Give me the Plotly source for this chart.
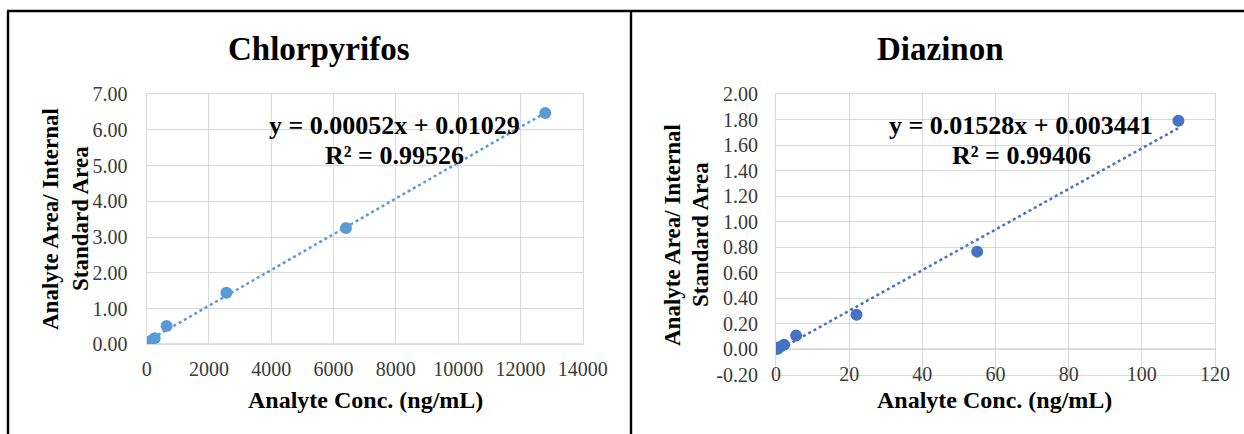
import numpy as np
import plotly.graph_objects as go

W, H = 1244, 434

# ---------------- data ----------------
chl_conc = [25.6, 128, 256, 640, 2560, 6400, 12800]
chl_ratio = [0.03, 0.09, 0.17, 0.51, 1.44, 3.25, 6.47]
chl_title = "Chlorpyrifos"
chl_eq = "y = 0.00052x + 0.01029"
chl_r2 = "R² = 0.99526"
chl_xticks = [0, 2000, 4000, 6000, 8000, 10000, 12000, 14000]
chl_yticks = [0, 1, 2, 3, 4, 5, 6, 7]

dia_conc = [0.22, 0.55, 1.1, 2.2, 5.5, 22, 55, 110]
dia_ratio = [0.003, 0.008, 0.018, 0.035, 0.107, 0.27, 0.765, 1.79]
dia_title = "Diazinon"
dia_eq = "y = 0.01528x + 0.003441"
dia_r2 = "R² = 0.99406"
dia_xticks = [0, 20, 40, 60, 80, 100, 120]
dia_yticks = [-0.2, 0, 0.2, 0.4, 0.6, 0.8, 1.0, 1.2, 1.4, 1.6, 1.8, 2.0]

x_title = "Analyte Conc. (ng/mL)"
y_title_1 = "Analyte Area/ Internal"
y_title_2 = "Standard Area"

# ---------------- helpers ----------------
def px(p):
    return p / W

def py(p):
    return 1 - p / H

SERIF = "Liberation Serif"
TICKFONT = dict(family=SERIF, size=20, color="#3A3A3A")
GRID = "#D9D9D9"
C1 = "#5B9BD5"
C2 = "#4472C4"

fig = go.Figure()

def add_chart(xs, ys, color, xa, ya):
    fig.add_trace(go.Scatter(x=xs, y=ys, mode="markers",
                             marker=dict(size=12, color=color),
                             xaxis=xa, yaxis=ya, showlegend=False, hoverinfo="x+y"))
    k, b = np.polyfit(xs, ys, 1)
    x_end = [min(xs), max(xs)]
    y_end = [k * v + b for v in x_end]
    fig.add_trace(go.Scatter(x=x_end, y=y_end, mode="lines",
                             line=dict(color=color, width=2.5, dash="dot"),
                             xaxis=xa, yaxis=ya, showlegend=False, hoverinfo="skip"))

add_chart(chl_conc, chl_ratio, C1, "x", "y")
add_chart(dia_conc, dia_ratio, C2, "x2", "y2")

axis_common = dict(showgrid=True, gridcolor=GRID, gridwidth=1.2, zeroline=False,
                   showline=True, linecolor=GRID, linewidth=1.2, mirror=True,
                   ticks="", tickfont=TICKFONT, fixedrange=True, automargin=False)

fig.update_layout(
    template="none",
    width=W, height=H, margin=dict(l=0, r=0, t=0, b=0, pad=0, autoexpand=False),
    paper_bgcolor="white", plot_bgcolor="white",
    xaxis=dict(domain=[px(146.7), px(582.7)], anchor="y", range=[0, 14000],
               tickmode="array", tickvals=chl_xticks,
               ticktext=[str(v) for v in chl_xticks], ticklabelstandoff=7, **axis_common),
    yaxis=dict(domain=[py(344.3), py(94)], anchor="x", range=[0, 7],
               tickmode="array", tickvals=chl_yticks,
               ticktext=[f"{v:.2f}" for v in chl_yticks], ticklabelstandoff=14, **axis_common),
    xaxis2=dict(domain=[px(776), px(1215)], anchor="y2", range=[0, 120],
                tickmode="array", tickvals=dia_xticks,
                ticktext=[str(v) for v in dia_xticks], ticklabelstandoff=-19, **axis_common),
    yaxis2=dict(domain=[py(374.8), py(94)], anchor="x2", range=[-0.2, 2.0],
                tickmode="array", tickvals=dia_yticks,
                ticktext=[f"{v:.2f}" for v in dia_yticks], ticklabelstandoff=13, **axis_common),
)

# axis lines at y = 0 (slightly darker)
for xr, yr in (("x domain", "y"), ("x2 domain", "y2")):
    fig.add_shape(type="line", xref=xr, yref=yr, x0=0, x1=1, y0=0, y1=0,
                  line=dict(color="#BFBFBF", width=1.4), layer="below")

# table borders
BORDER = dict(color="black", width=2.4)
fig.add_shape(type="line", xref="paper", yref="paper", x0=px(7), x1=1, y0=py(11), y1=py(11), line=BORDER)
fig.add_shape(type="line", xref="paper", yref="paper", x0=px(8), x1=px(8), y0=py(11), y1=0, line=BORDER)
fig.add_shape(type="line", xref="paper", yref="paper", x0=px(631), x1=px(631), y0=py(11), y1=0, line=BORDER)

def ann(text, x, y, size, angle=0):
    fig.add_annotation(text=f"<b>{text}</b>", xref="paper", yref="paper",
                       x=px(x), y=py(y), xanchor="center", yanchor="middle",
                       showarrow=False, textangle=angle,
                       font=dict(family=SERIF, size=size, color="black"))

# titles
ann(chl_title, 319, 49, 33)
ann(dia_title, 940, 49, 33)
# equations
ann(chl_eq, 394, 125, 26)
ann(chl_r2, 394, 155, 26)
ann(dia_eq, 1021, 125, 26)
ann(dia_r2, 1021, 155, 26)
# axis titles
ann(x_title, 365, 400, 24)
ann(x_title, 994, 400, 24)
ann(y_title_1, 50, 219, 23, -90)
ann(y_title_2, 80, 219, 23, -90)
ann(y_title_1, 672, 235, 23, -90)
ann(y_title_2, 700, 235, 23, -90)

fig.write_html("out.html", config={"displayModeBar": False},
               post_script="document.body.style.margin='0';document.body.style.overflow='hidden';")
